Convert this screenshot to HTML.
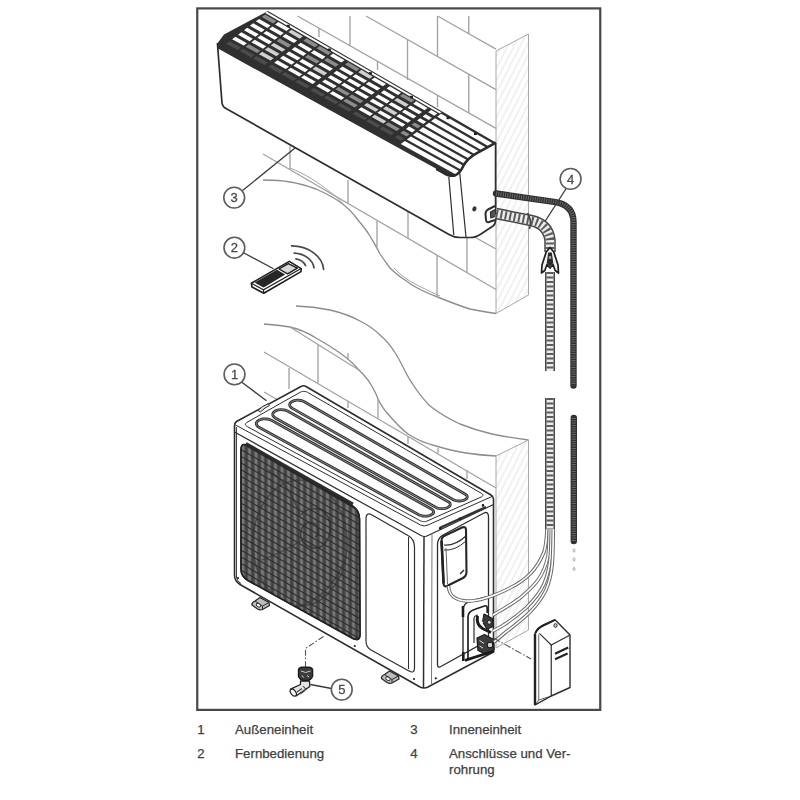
<!DOCTYPE html>
<html><head><meta charset="utf-8">
<style>
html,body{margin:0;padding:0;background:#fff;}
body{width:800px;height:800px;overflow:hidden;position:relative;font-family:"Liberation Sans",sans-serif;}
svg{position:absolute;left:0;top:0;}
svg text{font-family:"Liberation Sans",sans-serif;}
.t{position:absolute;font-size:13.25px;color:#404040;white-space:nowrap;line-height:14px;-webkit-text-stroke:0.25px #404040;}
</style></head><body>
<svg width="800" height="800" viewBox="0 0 800 800" style="filter:blur(0.4px)">
<defs>
<pattern id="hatch" width="5.6" height="5.6" patternUnits="userSpaceOnUse" patternTransform="rotate(-63)">
<line x1="0" y1="2.8" x2="5.6" y2="2.8" stroke="#e6e6e6" stroke-width="1.1"/>
</pattern>
</defs>
<rect x="197.25" y="8.4" width="403" height="701.5" fill="none" stroke="#484848" stroke-width="2.2"/>
<g id="upperwall">
<line x1="437.50" y1="16.00" x2="496.00" y2="49.11" stroke="#a3a3a3" stroke-width="1.35" />
<line x1="366.00" y1="16.00" x2="496.00" y2="89.58" stroke="#a3a3a3" stroke-width="1.35" />
<line x1="297.50" y1="16.00" x2="496.00" y2="128.35" stroke="#a3a3a3" stroke-width="1.35" />
<line x1="350.00" y1="16.00" x2="350.00" y2="46.00" stroke="#a3a3a3" stroke-width="1.35" />
<line x1="319.00" y1="28.00" x2="319.00" y2="37.00" stroke="#a3a3a3" stroke-width="1.35" />
<line x1="407.50" y1="39.50" x2="407.50" y2="80.00" stroke="#a3a3a3" stroke-width="1.35" />
<line x1="437.50" y1="16.00" x2="437.50" y2="56.00" stroke="#a3a3a3" stroke-width="1.35" />
<line x1="468.75" y1="16.00" x2="468.75" y2="34.00" stroke="#a3a3a3" stroke-width="1.35" />
<line x1="468.75" y1="74.00" x2="468.75" y2="113.00" stroke="#a3a3a3" stroke-width="1.35" />
<line x1="377.50" y1="61.00" x2="377.50" y2="70.00" stroke="#a3a3a3" stroke-width="1.35" />
<line x1="437.50" y1="95.00" x2="437.50" y2="107.00" stroke="#a3a3a3" stroke-width="1.35" />
<line x1="263.00" y1="154.00" x2="496.00" y2="289.50" stroke="#a3a3a3" stroke-width="1.35" />
<line x1="470.00" y1="234.50" x2="496.00" y2="249.00" stroke="#a3a3a3" stroke-width="1.35" />
<line x1="290.00" y1="146.00" x2="290.00" y2="169.00" stroke="#a3a3a3" stroke-width="1.35" />
<line x1="348.00" y1="180.00" x2="348.00" y2="203.00" stroke="#a3a3a3" stroke-width="1.35" />
<line x1="377.00" y1="221.00" x2="377.00" y2="247.00" stroke="#a3a3a3" stroke-width="1.35" />
<line x1="408.00" y1="212.00" x2="408.00" y2="238.00" stroke="#a3a3a3" stroke-width="1.35" />
<line x1="437.00" y1="255.50" x2="437.00" y2="296.00" stroke="#a3a3a3" stroke-width="1.35" />
<line x1="467.00" y1="238.00" x2="467.00" y2="272.50" stroke="#a3a3a3" stroke-width="1.35" />
</g>
<path d="M496,51 L528.5,34 L528.5,295 L496,313.5 Z" stroke="#a8a8a8" stroke-width="1" fill="url(#hatch)" />
<path d="M263,180 C275,180 285,181 290,182 C300,183.5 308,186 316,189 C325,193 333,197 340,202 C347,207 353,213 358,220 C363,226 367,231 370,236 C374,243 377,248 380,254 C384,260 387,264 390,268 C394,272 398,275 402,278 C405,280 408,282 412,285 C422,291 432,295 440,298 C450,302 460,306 470,309 C480,311 488,312.5 496,313.5" stroke="#8c8c8c" stroke-width="1.35" fill="none" />
<path d="M290,168 C305,174 318,182 330,192 C336,196 340,200 343,204" stroke="#a3a3a3" stroke-width="1" fill="none" />
<path d="M394,268 C398,272 402,276 406,278.5 C411,282 416,284.5 420,286.5 C427,290 434,293.5 440,296" stroke="#a3a3a3" stroke-width="1" fill="none" />
<path d="M296,306 C308,306.5 320,308 330,310 C341,312.5 351,316 360,321 C368,325 375,330 380,335 C386,340 390,345 394,351 C398,357 401,363 404,369 C407,375 409,379 412,383 C417,391 423,399 430,406 C439,413 449,419 460,424 C470,428 481,431.5 492,434 C504,436.5 516,438.5 528.5,440" stroke="#8c8c8c" stroke-width="1.35" fill="none" />
<path d="M264,324 C273,324.5 282,325.5 290,327 C299,329 308,333 316,338 C325,343 333,348 340,353 C347,358 353,363 358,369 C363,374 367,378 370,383 C373,388 376,393 378,399 C381,405 384,410 388,414 C394,421 400,428 408,434 C417,440 426,443.5 436,446 C446,449 456,451.5 466,453 C476,454.5 486,455.5 496,456" stroke="#8c8c8c" stroke-width="1.35" fill="none" />
<line x1="290.00" y1="327.00" x2="358.00" y2="369.50" stroke="#a3a3a3" stroke-width="1.35" />
<line x1="264.00" y1="352.00" x2="496.00" y2="488.00" stroke="#a3a3a3" stroke-width="1.35" />
<line x1="264.00" y1="392.00" x2="277.00" y2="399.50" stroke="#a3a3a3" stroke-width="1.35" />
<line x1="318.00" y1="345.00" x2="318.00" y2="383.00" stroke="#a3a3a3" stroke-width="1.35" />
<line x1="289.00" y1="368.00" x2="289.00" y2="389.00" stroke="#a3a3a3" stroke-width="1.35" />
<line x1="348.00" y1="353.00" x2="348.00" y2="360.00" stroke="#a3a3a3" stroke-width="1.35" />
<line x1="348.00" y1="401.00" x2="348.00" y2="408.00" stroke="#a3a3a3" stroke-width="1.35" />
<line x1="378.00" y1="399.00" x2="378.00" y2="418.00" stroke="#a3a3a3" stroke-width="1.35" />
<line x1="408.00" y1="437.00" x2="408.00" y2="444.00" stroke="#a3a3a3" stroke-width="1.35" />
<line x1="438.00" y1="448.00" x2="438.00" y2="453.00" stroke="#a3a3a3" stroke-width="1.35" />
<line x1="467.00" y1="470.00" x2="467.00" y2="479.00" stroke="#a3a3a3" stroke-width="1.35" />
<path d="M496,456 L528.5,440 L528.5,630 L496,648 Z" stroke="#a8a8a8" stroke-width="1" fill="url(#hatch)" />
<g id="indoor">
<path d="M217.5,45 L222,103 Q222.5,107 226,108.5 L449,234.5 Q454,237.5 460,237.5 L470,237.5 Q476,237.5 481,234 L493,226 Q495.6,224 495.6,220 L495.6,143 L268,11 L225,33 Z" stroke="none" stroke-width="1" fill="#fff" />
<path d="M217.4,43 L222,103 Q222.5,107 226,108.5 L449,234.5 Q454,237.5 460,237.5 L470,237.5 Q476,237.5 481,234 L493,226 Q495.6,224 495.6,220 L495.6,143" stroke="#2e2e2e" stroke-width="1.7" fill="none" />
<path d="M448.8,177 L453.8,235" stroke="#2e2e2e" stroke-width="1.2" fill="none" />
<path d="M459.6,171.5 L466,237" stroke="#2e2e2e" stroke-width="1.2" fill="none" />
<ellipse cx="474.4" cy="208.8" rx="2" ry="2.6" fill="#333" transform="rotate(25 474.4 208.8)"/>
<path d="M495,206 L488,209.5 Q485.5,211 485.5,214 L486,220 Q486.3,222.8 489,222 L495,220" stroke="#2e2e2e" stroke-width="2" fill="#fff" />
<path d="M495,209.5 L490.5,212 L490.8,218 L495,216.5" stroke="#2e2e2e" stroke-width="1.2" fill="#555" />
<path d="M218.0,48.6 L442.2,172.1 Q449.6,176.9 455,175.4 C459,173.6 461.5,170 463.3,166 C466,160.5 470,157 476,153.6 L495.9,142.6 L268.0,11.0 L224,34.5 L217.3,43.5 Z" stroke="none" stroke-width="1" fill="#303030" />
<clipPath id="gclip"><path d="M218.0,48.6 L442.2,172.1 Q449.6,176.9 455,175.4 C459,173.6 461.5,170 463.3,166 C466,160.5 470,157 476,153.6 L495.9,142.6 L268.0,11.0 L224,34.5 L217.3,43.5 Z"/></clipPath>
<polygon points="226.23,43.63 237.81,50.05 241.05,47.61 229.49,41.17" stroke="none" stroke-width="1" fill="#4c4c4c" />
<polygon points="239.66,51.08 251.24,57.51 254.47,55.08 242.90,48.64" stroke="none" stroke-width="1" fill="#4c4c4c" />
<polygon points="253.10,58.53 264.68,64.96 267.89,62.55 256.32,56.11" stroke="none" stroke-width="1" fill="#4c4c4c" />
<polygon points="268.39,67.02 279.97,73.44 283.16,71.05 271.59,64.61" stroke="none" stroke-width="1" fill="#4c4c4c" />
<polygon points="281.82,74.47 293.41,80.90 296.58,78.51 285.01,72.08" stroke="none" stroke-width="1" fill="#4c4c4c" />
<polygon points="295.26,81.93 306.84,88.35 310.00,85.98 298.43,79.54" stroke="none" stroke-width="1" fill="#4c4c4c" />
<polygon points="310.55,90.41 322.13,96.83 325.27,94.48 313.70,88.04" stroke="none" stroke-width="1" fill="#4c4c4c" />
<polygon points="323.99,97.86 335.57,104.29 338.69,101.95 327.12,95.51" stroke="none" stroke-width="1" fill="#4c4c4c" />
<polygon points="337.42,105.32 349.00,111.74 352.11,109.42 340.54,102.98" stroke="none" stroke-width="1" fill="#4c4c4c" />
<polygon points="352.71,113.80 364.29,120.23 367.38,117.92 355.81,111.48" stroke="none" stroke-width="1" fill="#4c4c4c" />
<polygon points="366.15,121.25 377.73,127.68 380.80,125.38 369.23,118.95" stroke="none" stroke-width="1" fill="#4c4c4c" />
<polygon points="379.58,128.71 391.17,135.14 394.22,132.85 382.65,126.41" stroke="none" stroke-width="1" fill="#4c4c4c" />
<polygon points="394.87,137.19 401.13,140.66 404.17,138.39 397.92,134.91" stroke="none" stroke-width="1" fill="#4c4c4c" />
<polygon points="232.15,39.17 243.71,45.62 246.95,43.18 235.41,36.72" stroke="none" stroke-width="1" fill="#fff" />
<polygon points="245.56,46.65 257.12,53.10 260.34,50.67 248.80,44.21" stroke="none" stroke-width="1" fill="#8c8c8c" />
<polygon points="258.96,54.13 270.52,60.57 273.73,58.16 262.19,51.70" stroke="none" stroke-width="1" fill="#d0d0d0" />
<polygon points="274.22,62.64 285.78,69.09 288.97,66.69 277.43,60.23" stroke="none" stroke-width="1" fill="#fff" />
<polygon points="287.63,70.12 299.18,76.56 302.36,74.18 290.82,67.72" stroke="none" stroke-width="1" fill="#fff" />
<polygon points="301.03,77.60 312.59,84.04 315.75,81.67 304.20,75.22" stroke="none" stroke-width="1" fill="#fff" />
<polygon points="316.29,86.11 327.84,92.55 330.98,90.20 319.44,83.74" stroke="none" stroke-width="1" fill="#fff" />
<polygon points="329.69,93.59 341.25,100.03 344.37,97.69 332.83,91.23" stroke="none" stroke-width="1" fill="#fff" />
<polygon points="343.10,101.07 354.65,107.51 357.76,105.19 346.22,98.73" stroke="none" stroke-width="1" fill="#8c8c8c" />
<polygon points="358.35,109.58 369.91,116.02 373.00,113.71 361.46,107.25" stroke="none" stroke-width="1" fill="#fff" />
<polygon points="371.76,117.06 383.32,123.50 386.39,121.21 374.84,114.75" stroke="none" stroke-width="1" fill="#d0d0d0" />
<polygon points="385.16,124.53 396.72,130.98 399.78,128.70 388.23,122.24" stroke="none" stroke-width="1" fill="#8c8c8c" />
<polygon points="400.42,133.05 406.66,136.53 409.70,134.25 403.47,130.77" stroke="none" stroke-width="1" fill="#8c8c8c" />
<polygon points="238.08,34.71 249.61,41.18 252.85,38.74 241.34,32.26" stroke="none" stroke-width="1" fill="#fff" />
<polygon points="251.45,42.22 262.99,48.68 266.21,46.26 254.70,39.78" stroke="none" stroke-width="1" fill="#fff" />
<polygon points="264.83,49.72 276.36,56.19 279.57,53.78 268.06,47.30" stroke="none" stroke-width="1" fill="#d0d0d0" />
<polygon points="280.05,58.26 291.58,64.73 294.77,62.33 283.26,55.85" stroke="none" stroke-width="1" fill="#fff" />
<polygon points="293.43,65.76 304.96,72.23 308.13,69.85 296.62,63.37" stroke="none" stroke-width="1" fill="#fff" />
<polygon points="306.80,73.27 318.33,79.74 321.49,77.37 309.98,70.89" stroke="none" stroke-width="1" fill="#fff" />
<polygon points="322.02,81.81 333.55,88.27 336.69,85.92 325.18,79.44" stroke="none" stroke-width="1" fill="#fff" />
<polygon points="335.40,89.31 346.93,95.78 350.05,93.44 338.54,86.96" stroke="none" stroke-width="1" fill="#8c8c8c" />
<polygon points="348.77,96.81 360.30,103.28 363.41,100.96 351.90,94.48" stroke="none" stroke-width="1" fill="#8c8c8c" />
<polygon points="363.99,105.35 375.52,111.82 378.61,109.51 367.10,103.03" stroke="none" stroke-width="1" fill="#d0d0d0" />
<polygon points="377.37,112.86 388.90,119.33 391.97,117.03 380.46,110.55" stroke="none" stroke-width="1" fill="#fff" />
<polygon points="390.75,120.36 402.28,126.83 405.33,124.55 393.82,118.07" stroke="none" stroke-width="1" fill="#fff" />
<polygon points="405.97,128.90 412.19,132.39 415.24,130.12 409.02,126.62" stroke="none" stroke-width="1" fill="#fff" />
<polygon points="244.01,30.26 255.51,36.75 258.76,34.31 247.26,27.80" stroke="none" stroke-width="1" fill="#fff" />
<polygon points="257.35,37.78 268.86,44.27 272.08,41.85 260.59,35.35" stroke="none" stroke-width="1" fill="#fff" />
<polygon points="270.70,45.31 282.20,51.80 285.41,49.39 273.92,42.89" stroke="none" stroke-width="1" fill="#d0d0d0" />
<polygon points="285.88,53.88 297.39,60.37 300.58,57.97 289.09,51.47" stroke="none" stroke-width="1" fill="#fff" />
<polygon points="299.23,61.41 310.73,67.90 313.91,65.52 302.42,59.01" stroke="none" stroke-width="1" fill="#fff" />
<polygon points="312.57,68.94 324.08,75.43 327.24,73.06 315.75,66.56" stroke="none" stroke-width="1" fill="#d0d0d0" />
<polygon points="327.76,77.50 339.26,84.00 342.40,81.64 330.91,75.14" stroke="none" stroke-width="1" fill="#fff" />
<polygon points="341.10,85.03 352.61,91.52 355.73,89.18 344.24,82.68" stroke="none" stroke-width="1" fill="#fff" />
<polygon points="354.45,92.56 365.95,99.05 369.06,96.73 357.57,90.22" stroke="none" stroke-width="1" fill="#fff" />
<polygon points="369.64,101.13 381.14,107.62 384.23,105.31 372.74,98.81" stroke="none" stroke-width="1" fill="#fff" />
<polygon points="382.98,108.66 394.49,115.15 397.56,112.85 386.07,106.35" stroke="none" stroke-width="1" fill="#d0d0d0" />
<polygon points="396.33,116.19 407.83,122.68 410.89,120.39 399.40,113.89" stroke="none" stroke-width="1" fill="#fff" />
<polygon points="411.51,124.75 417.73,128.26 420.77,125.99 414.56,122.47" stroke="none" stroke-width="1" fill="#8c8c8c" />
<polygon points="249.93,25.80 261.41,32.31 264.66,29.87 253.19,23.35" stroke="none" stroke-width="1" fill="#fff" />
<polygon points="263.25,33.35 274.73,39.86 277.95,37.44 266.49,30.91" stroke="none" stroke-width="1" fill="#fff" />
<polygon points="276.56,40.91 288.04,47.42 291.25,45.01 279.79,38.48" stroke="none" stroke-width="1" fill="#8c8c8c" />
<polygon points="291.71,49.50 303.19,56.01 306.39,53.62 294.92,47.09" stroke="none" stroke-width="1" fill="#fff" />
<polygon points="305.03,57.05 316.51,63.57 319.68,61.18 308.22,54.66" stroke="none" stroke-width="1" fill="#8c8c8c" />
<polygon points="318.34,64.61 329.82,71.12 332.98,68.75 321.52,62.23" stroke="none" stroke-width="1" fill="#fff" />
<polygon points="333.50,73.20 344.97,79.72 348.11,77.36 336.65,70.84" stroke="none" stroke-width="1" fill="#fff" />
<polygon points="346.81,80.76 358.29,87.27 361.41,84.93 349.95,78.40" stroke="none" stroke-width="1" fill="#fff" />
<polygon points="360.13,88.31 371.60,94.82 374.71,92.50 363.25,85.97" stroke="none" stroke-width="1" fill="#fff" />
<polygon points="375.28,96.91 386.76,103.42 389.84,101.11 378.38,94.58" stroke="none" stroke-width="1" fill="#fff" />
<polygon points="388.59,104.46 400.07,110.97 403.14,108.67 391.68,102.15" stroke="none" stroke-width="1" fill="#fff" />
<polygon points="401.91,112.01 413.39,118.52 416.44,116.24 404.98,109.72" stroke="none" stroke-width="1" fill="#fff" />
<polygon points="417.06,120.61 423.26,124.12 426.30,121.85 420.11,118.33" stroke="none" stroke-width="1" fill="#fff" />
<polygon points="255.86,21.34 267.31,27.88 270.56,25.44 259.12,18.89" stroke="none" stroke-width="1" fill="#fff" />
<polygon points="269.14,28.92 280.60,35.45 283.82,33.03 272.39,26.48" stroke="none" stroke-width="1" fill="#fff" />
<polygon points="282.43,36.50 293.88,43.03 297.09,40.62 285.65,34.07" stroke="none" stroke-width="1" fill="#fff" />
<polygon points="297.55,45.12 309.00,51.66 312.19,49.26 300.75,42.71" stroke="none" stroke-width="1" fill="#fff" />
<polygon points="310.83,52.70 322.28,59.23 325.46,56.85 314.02,50.31" stroke="none" stroke-width="1" fill="#fff" />
<polygon points="324.11,60.28 335.57,66.81 338.73,64.44 327.29,57.90" stroke="none" stroke-width="1" fill="#8c8c8c" />
<polygon points="339.23,68.90 350.68,75.44 353.83,73.08 342.39,66.54" stroke="none" stroke-width="1" fill="#fff" />
<polygon points="352.52,76.48 363.97,83.01 367.09,80.67 355.66,74.13" stroke="none" stroke-width="1" fill="#fff" />
<polygon points="365.80,84.06 377.25,90.59 380.36,88.27 368.92,81.72" stroke="none" stroke-width="1" fill="#fff" />
<polygon points="380.92,92.68 392.37,99.22 395.46,96.90 384.02,90.36" stroke="none" stroke-width="1" fill="#fff" />
<polygon points="394.20,100.26 405.66,106.79 408.73,104.50 397.29,97.95" stroke="none" stroke-width="1" fill="#d0d0d0" />
<polygon points="407.49,107.84 418.94,114.37 422.00,112.09 410.56,105.54" stroke="none" stroke-width="1" fill="#fff" />
<polygon points="422.61,116.46 428.79,119.99 431.83,117.72 425.66,114.18" stroke="none" stroke-width="1" fill="#fff" />
<polygon points="261.78,16.89 273.21,23.44 276.46,21.00 265.04,14.43" stroke="none" stroke-width="1" fill="#8c8c8c" />
<polygon points="275.04,24.49 286.47,31.04 289.69,28.62 278.28,22.05" stroke="none" stroke-width="1" fill="#fff" />
<polygon points="288.29,32.09 299.72,38.65 302.93,36.23 291.52,29.67" stroke="none" stroke-width="1" fill="#d0d0d0" />
<polygon points="303.38,40.74 314.80,47.30 318.00,44.90 306.58,38.33" stroke="none" stroke-width="1" fill="#8c8c8c" />
<polygon points="316.63,48.35 328.06,54.90 331.23,52.52 319.82,45.95" stroke="none" stroke-width="1" fill="#8c8c8c" />
<polygon points="329.89,55.95 341.31,62.50 344.47,60.13 333.06,53.57" stroke="none" stroke-width="1" fill="#fff" />
<polygon points="344.97,64.60 356.40,71.16 359.54,68.80 348.12,62.24" stroke="none" stroke-width="1" fill="#8c8c8c" />
<polygon points="358.22,72.20 369.65,78.76 372.77,76.42 361.36,69.85" stroke="none" stroke-width="1" fill="#d0d0d0" />
<polygon points="371.48,79.81 382.90,86.36 386.01,84.03 374.60,77.47" stroke="none" stroke-width="1" fill="#fff" />
<polygon points="386.56,88.46 397.99,95.01 401.08,92.70 389.66,86.14" stroke="none" stroke-width="1" fill="#fff" />
<polygon points="399.82,96.06 411.24,102.62 414.31,100.32 402.90,93.75" stroke="none" stroke-width="1" fill="#8c8c8c" />
<polygon points="413.07,103.66 424.50,110.22 427.55,107.94 416.14,101.37" stroke="none" stroke-width="1" fill="#fff" />
<polygon points="428.15,112.32 434.32,115.86 437.37,113.58 431.20,110.04" stroke="none" stroke-width="1" fill="#fff" />
<polygon points="400.74,143.97 472.86,183.88 476.80,180.94 404.80,140.94" stroke="none" stroke-width="1" fill="#fff" clip-path="url(#gclip)"/>
<polygon points="406.80,139.44 478.74,179.49 482.68,176.56 410.86,136.41" stroke="none" stroke-width="1" fill="#fff" clip-path="url(#gclip)"/>
<polygon points="412.86,134.91 484.63,175.11 488.57,172.18 416.92,131.88" stroke="none" stroke-width="1" fill="#fff" clip-path="url(#gclip)"/>
<polygon points="418.92,130.39 490.51,170.73 494.45,167.79 422.98,127.35" stroke="none" stroke-width="1" fill="#fff" clip-path="url(#gclip)"/>
<polygon points="424.98,125.86 496.39,166.35 500.33,163.41 429.04,122.82" stroke="none" stroke-width="1" fill="#fff" clip-path="url(#gclip)"/>
<polygon points="431.04,121.33 502.27,161.96 506.21,159.03 435.10,118.30" stroke="none" stroke-width="1" fill="#fff" clip-path="url(#gclip)"/>
<polygon points="437.10,116.80 508.15,157.58 512.10,154.65 441.16,113.77" stroke="none" stroke-width="1" fill="#fff" clip-path="url(#gclip)"/>
<polygon points="265.25,13.07 439.78,113.59 441.41,112.37 267.00,11.75" stroke="none" stroke-width="1" fill="#fff" />
<rect x="286.8" y="24.8" width="3" height="2.4" fill="#222"/>
<rect x="327.9" y="48.5" width="3" height="2.4" fill="#222"/>
<rect x="368.9" y="72.1" width="3" height="2.4" fill="#222"/>
<rect x="410.0" y="95.8" width="3" height="2.4" fill="#222"/>
<rect x="446.5" y="116.8" width="3" height="2.4" fill="#222"/>
<rect x="473.9" y="132.6" width="3" height="2.4" fill="#222"/>
<path d="M436.2,168.8 L442.2,172.1 Q449.6,176.9 455,175.4 C459,173.6 461.5,170 463.3,166 C466,160.5 470,157 476,153.6 L495.9,142.6" stroke="#2c2c2c" stroke-width="2.6" fill="none" />
</g>
<path d="M496,193.5 L554,201.8 Q573.5,204.5 573.5,222 L573.5,385.5" stroke="#303030" stroke-width="6.4" fill="none" stroke-linecap="round"/>
<path d="M496,193.5 L554,201.8 Q573.5,204.5 573.5,222 L573.5,385.5" stroke="#686868" stroke-width="4.2" fill="none" stroke-dasharray="1 1.3"/>
<path d="M573.8,418 L573.8,541" stroke="#303030" stroke-width="6.4" fill="none" stroke-linecap="round"/>
<path d="M573.8,418 L573.8,541" stroke="#686868" stroke-width="4.2" fill="none" stroke-dasharray="1 1.3"/>
<path d="M496,213.5 L531,220.5 Q548,224 550,240 L550,252" stroke="#484848" stroke-width="11.5" fill="none" />
<path d="M496,213.5 L531,220.5 Q548,224 550,240 L550,252" stroke="#ececec" stroke-width="8.5" fill="none" />
<path d="M496,213.5 L531,220.5 Q548,224 550,240 L550,252" stroke="#5c5c5c" stroke-width="8.5" fill="none" stroke-dasharray="2 2.5"/>
<path d="M550,272 L550,371" stroke="#484848" stroke-width="10" fill="none" />
<path d="M550,272 L550,371" stroke="#ececec" stroke-width="7" fill="none" />
<path d="M550,272 L550,371" stroke="#5c5c5c" stroke-width="7" fill="none" stroke-dasharray="2 2.5"/>
<path d="M550,398 L550,530" stroke="#484848" stroke-width="10" fill="none" />
<path d="M550,398 L550,530" stroke="#ececec" stroke-width="7" fill="none" />
<path d="M550,398 L550,530" stroke="#5c5c5c" stroke-width="7" fill="none" stroke-dasharray="2 2.5"/>
<path d="M550,247.5 L546.2,252 L542,265 L541.5,273 L544.8,270.5 L547,264.5 L550,268 L553,264.5 L555.2,270.5 L558.5,273 L558,265 L553.8,252 Z" stroke="#1e1e1e" stroke-width="1.7" fill="#f2f2f2" stroke-linejoin="round"/>
<path d="M548.2,252.5 L551.8,252.5 L553.3,263 L550,266.5 L546.7,263 Z" stroke="none" stroke-width="1" fill="#2a2a2a" />
<path d="M548.8,256 L551.2,256 L551.2,259 L548.8,259 Z" stroke="none" stroke-width="1" fill="#999" />
<path d="M527.5,213 Q532,220 529.5,229" stroke="#444" stroke-width="1.6" fill="none" />
<ellipse cx="574" cy="550.5" rx="1" ry="1.6" fill="none" stroke="#999" stroke-width="0.8"/>
<ellipse cx="574" cy="559.5" rx="1" ry="1.6" fill="none" stroke="#999" stroke-width="0.8"/>
<ellipse cx="574" cy="569" rx="1" ry="1.6" fill="none" stroke="#999" stroke-width="0.8"/>
<g id="outdoor">
<path d="M234.5,424 L303.5,385 L493.5,496 L493.5,650 L424,688 L240,584.5 Q234.5,581 234.5,575 Z" stroke="none" stroke-width="1" fill="#fff" />
<path d="M236.5,421.5 Q234.5,423 234.5,426 L234.5,575 Q234.5,581 240,584.5 L420,687 Q424,689 428,687 L493.5,652 L493.5,499 Q493.5,496.5 491,495 L306,386.5 Q303.5,385 301,386.5 Z" stroke="#2e2e2e" stroke-width="1.6" fill="none" />
<path d="M234.5,432 L421,535.5 Q424.5,537.5 428,535.5 L493.5,504.5" stroke="#2e2e2e" stroke-width="1.2" fill="none" />
<path d="M235.5,425 L420.5,525 Q424,527 428,525 L492,496.5" stroke="#2e2e2e" stroke-width="1" fill="none" />
<path d="M236.4,427 L236.4,576 Q236.6,581 241,583.5" stroke="#2e2e2e" stroke-width="1" fill="none" />
<line x1="424.00" y1="537.00" x2="423.50" y2="688.00" stroke="#2e2e2e" stroke-width="1.5" />
<line x1="432.00" y1="534.50" x2="431.50" y2="685.00" stroke="#666" stroke-width="0.9" />
<path d="M300.3,392.2 L300.9,391.9 L301.6,391.7 L302.4,391.5 L303.2,391.4 L304.0,391.4 L304.9,391.5 L305.8,391.7 L306.6,391.9 L307.4,392.2 L308.0,392.6 L481.5,493.4 L482.0,493.7 L482.4,494.0 L482.7,494.4 L482.8,494.8 L482.9,495.2 L482.8,495.6 L482.6,496.0 L482.3,496.3 L481.9,496.7 L481.4,496.9 L427.0,521.1 L426.4,521.3 L425.8,521.5 L425.1,521.6 L424.4,521.6 L423.6,521.6 L422.9,521.5 L422.2,521.4 L421.5,521.2 L420.8,521.0 L420.2,520.7 L247.4,426.7 L246.8,426.3 L246.3,425.9 L245.9,425.5 L245.6,425.0 L245.4,424.6 L245.4,424.1 L245.5,423.7 L245.7,423.3 L246.0,422.9 L246.5,422.6 Z" stroke="#2e2e2e" stroke-width="1" fill="none" />
<path d="M292.4,401.4 L293.4,400.9 L294.4,400.6 L295.6,400.3 L296.9,400.2 L298.2,400.2 L299.5,400.3 L300.8,400.5 L302.1,400.8 L303.2,401.3 L304.3,401.8 L465.3,494.3 L466.0,494.8 L466.6,495.3 L467.0,495.9 L467.2,496.5 L467.3,497.1 L467.1,497.8 L466.8,498.3 L466.2,498.9 L465.6,499.4 L464.7,499.8 L464.2,500.1 L463.2,500.4 L462.2,500.7 L461.0,500.9 L459.9,501.0 L458.7,501.0 L457.5,500.9 L456.3,500.7 L455.3,500.5 L454.3,500.1 L453.4,499.7 L292.4,408.4 L291.5,407.8 L290.8,407.1 L290.2,406.4 L289.9,405.7 L289.7,405.0 L289.7,404.2 L290.0,403.5 L290.4,402.8 L291.0,402.2 L291.8,401.7 Z" stroke="#2e2e2e" stroke-width="2.8" fill="none" />
<path d="M292.4,401.4 L293.4,400.9 L294.4,400.6 L295.6,400.3 L296.9,400.2 L298.2,400.2 L299.5,400.3 L300.8,400.5 L302.1,400.8 L303.2,401.3 L304.3,401.8 L465.3,494.3 L466.0,494.8 L466.6,495.3 L467.0,495.9 L467.2,496.5 L467.3,497.1 L467.1,497.8 L466.8,498.3 L466.2,498.9 L465.6,499.4 L464.7,499.8 L464.2,500.1 L463.2,500.4 L462.2,500.7 L461.0,500.9 L459.9,501.0 L458.7,501.0 L457.5,500.9 L456.3,500.7 L455.3,500.5 L454.3,500.1 L453.4,499.7 L292.4,408.4 L291.5,407.8 L290.8,407.1 L290.2,406.4 L289.9,405.7 L289.7,405.0 L289.7,404.2 L290.0,403.5 L290.4,402.8 L291.0,402.2 L291.8,401.7 Z" stroke="#c8c8c8" stroke-width="0.6" fill="none" />
<path d="M275.5,410.9 L276.5,410.4 L277.6,410.1 L278.9,409.8 L280.2,409.7 L281.6,409.6 L283.0,409.8 L284.4,410.0 L285.7,410.3 L286.9,410.8 L288.0,411.3 L448.2,501.7 L448.9,502.2 L449.6,502.8 L450.0,503.4 L450.2,504.0 L450.3,504.7 L450.1,505.3 L449.8,505.9 L449.2,506.5 L448.5,507.0 L447.7,507.4 L447.1,507.7 L446.1,508.1 L445.0,508.4 L443.8,508.6 L442.6,508.7 L441.3,508.7 L440.1,508.6 L438.9,508.4 L437.7,508.1 L436.7,507.7 L435.7,507.3 L275.7,418.2 L274.8,417.6 L274.0,416.9 L273.4,416.2 L272.9,415.4 L272.8,414.6 L272.8,413.9 L273.0,413.1 L273.5,412.4 L274.1,411.8 L275.0,411.2 Z" stroke="#2e2e2e" stroke-width="2.8" fill="none" />
<path d="M275.5,410.9 L276.5,410.4 L277.6,410.1 L278.9,409.8 L280.2,409.7 L281.6,409.6 L283.0,409.8 L284.4,410.0 L285.7,410.3 L286.9,410.8 L288.0,411.3 L448.2,501.7 L448.9,502.2 L449.6,502.8 L450.0,503.4 L450.2,504.0 L450.3,504.7 L450.1,505.3 L449.8,505.9 L449.2,506.5 L448.5,507.0 L447.7,507.4 L447.1,507.7 L446.1,508.1 L445.0,508.4 L443.8,508.6 L442.6,508.7 L441.3,508.7 L440.1,508.6 L438.9,508.4 L437.7,508.1 L436.7,507.7 L435.7,507.3 L275.7,418.2 L274.8,417.6 L274.0,416.9 L273.4,416.2 L272.9,415.4 L272.8,414.6 L272.8,413.9 L273.0,413.1 L273.5,412.4 L274.1,411.8 L275.0,411.2 Z" stroke="#c8c8c8" stroke-width="0.6" fill="none" />
<path d="M259.1,420.1 L260.1,419.7 L261.2,419.3 L262.5,419.0 L263.9,418.9 L265.3,418.9 L266.7,419.0 L268.1,419.2 L269.5,419.6 L270.7,420.0 L271.9,420.6 L431.4,509.0 L432.2,509.6 L432.9,510.1 L433.3,510.8 L433.6,511.4 L433.7,512.0 L433.5,512.7 L433.2,513.3 L432.6,513.9 L431.9,514.4 L431.1,514.9 L430.5,515.1 L429.5,515.5 L428.4,515.8 L427.2,516.0 L425.9,516.1 L424.6,516.1 L423.3,516.0 L422.1,515.8 L420.9,515.5 L419.8,515.2 L418.8,514.7 L259.4,427.5 L258.4,426.9 L257.6,426.2 L257.0,425.5 L256.6,424.7 L256.3,423.9 L256.3,423.1 L256.6,422.4 L257.0,421.7 L257.7,421.0 L258.5,420.4 Z" stroke="#2e2e2e" stroke-width="2.8" fill="none" />
<path d="M259.1,420.1 L260.1,419.7 L261.2,419.3 L262.5,419.0 L263.9,418.9 L265.3,418.9 L266.7,419.0 L268.1,419.2 L269.5,419.6 L270.7,420.0 L271.9,420.6 L431.4,509.0 L432.2,509.6 L432.9,510.1 L433.3,510.8 L433.6,511.4 L433.7,512.0 L433.5,512.7 L433.2,513.3 L432.6,513.9 L431.9,514.4 L431.1,514.9 L430.5,515.1 L429.5,515.5 L428.4,515.8 L427.2,516.0 L425.9,516.1 L424.6,516.1 L423.3,516.0 L422.1,515.8 L420.9,515.5 L419.8,515.2 L418.8,514.7 L259.4,427.5 L258.4,426.9 L257.6,426.2 L257.0,425.5 L256.6,424.7 L256.3,423.9 L256.3,423.1 L256.6,422.4 L257.0,421.7 L257.7,421.0 L258.5,420.4 Z" stroke="#c8c8c8" stroke-width="0.6" fill="none" />
<path d="M258,410.5 L262.5,406.5 L268,403.8 L269.5,405.5 L265,408 L260.5,412 Z" stroke="#333" stroke-width="1" fill="#ddd" />
<clipPath id="fanclip"><path d="M241,450 Q241,442 248,445.5 L352,505.5 Q359.5,510.5 359.5,519 L360,634 Q360,642 353,638.5 L248,580.5 Q241,576.5 241,569 Z"/></clipPath>
<path d="M241,450 Q241,442 248,445.5 L352,505.5 Q359.5,510.5 359.5,519 L360,634 Q360,642 353,638.5 L248,580.5 Q241,576.5 241,569 Z" stroke="#222" stroke-width="1.5" fill="#4e4e4e" />
<g clip-path="url(#fanclip)">
<line x1="243.00" y1="430.00" x2="243.00" y2="650.00" stroke="#787878" stroke-width="2.6" />
<line x1="246.30" y1="430.00" x2="246.30" y2="650.00" stroke="#3c3c3c" stroke-width="0.9" />
<line x1="249.50" y1="430.00" x2="249.50" y2="650.00" stroke="#787878" stroke-width="2.6" />
<line x1="252.80" y1="430.00" x2="252.80" y2="650.00" stroke="#3c3c3c" stroke-width="0.9" />
<line x1="256.00" y1="430.00" x2="256.00" y2="650.00" stroke="#787878" stroke-width="2.6" />
<line x1="259.30" y1="430.00" x2="259.30" y2="650.00" stroke="#3c3c3c" stroke-width="0.9" />
<line x1="262.50" y1="430.00" x2="262.50" y2="650.00" stroke="#787878" stroke-width="2.6" />
<line x1="265.80" y1="430.00" x2="265.80" y2="650.00" stroke="#3c3c3c" stroke-width="0.9" />
<line x1="269.00" y1="430.00" x2="269.00" y2="650.00" stroke="#787878" stroke-width="2.6" />
<line x1="272.30" y1="430.00" x2="272.30" y2="650.00" stroke="#3c3c3c" stroke-width="0.9" />
<line x1="275.50" y1="430.00" x2="275.50" y2="650.00" stroke="#787878" stroke-width="2.6" />
<line x1="278.80" y1="430.00" x2="278.80" y2="650.00" stroke="#3c3c3c" stroke-width="0.9" />
<line x1="282.00" y1="430.00" x2="282.00" y2="650.00" stroke="#787878" stroke-width="2.6" />
<line x1="285.30" y1="430.00" x2="285.30" y2="650.00" stroke="#3c3c3c" stroke-width="0.9" />
<line x1="288.50" y1="430.00" x2="288.50" y2="650.00" stroke="#787878" stroke-width="2.6" />
<line x1="291.80" y1="430.00" x2="291.80" y2="650.00" stroke="#3c3c3c" stroke-width="0.9" />
<line x1="295.00" y1="430.00" x2="295.00" y2="650.00" stroke="#787878" stroke-width="2.6" />
<line x1="298.30" y1="430.00" x2="298.30" y2="650.00" stroke="#3c3c3c" stroke-width="0.9" />
<line x1="301.50" y1="430.00" x2="301.50" y2="650.00" stroke="#787878" stroke-width="2.6" />
<line x1="304.80" y1="430.00" x2="304.80" y2="650.00" stroke="#3c3c3c" stroke-width="0.9" />
<line x1="308.00" y1="430.00" x2="308.00" y2="650.00" stroke="#787878" stroke-width="2.6" />
<line x1="311.30" y1="430.00" x2="311.30" y2="650.00" stroke="#3c3c3c" stroke-width="0.9" />
<line x1="314.50" y1="430.00" x2="314.50" y2="650.00" stroke="#787878" stroke-width="2.6" />
<line x1="317.80" y1="430.00" x2="317.80" y2="650.00" stroke="#3c3c3c" stroke-width="0.9" />
<line x1="321.00" y1="430.00" x2="321.00" y2="650.00" stroke="#787878" stroke-width="2.6" />
<line x1="324.30" y1="430.00" x2="324.30" y2="650.00" stroke="#3c3c3c" stroke-width="0.9" />
<line x1="327.50" y1="430.00" x2="327.50" y2="650.00" stroke="#787878" stroke-width="2.6" />
<line x1="330.80" y1="430.00" x2="330.80" y2="650.00" stroke="#3c3c3c" stroke-width="0.9" />
<line x1="334.00" y1="430.00" x2="334.00" y2="650.00" stroke="#787878" stroke-width="2.6" />
<line x1="337.30" y1="430.00" x2="337.30" y2="650.00" stroke="#3c3c3c" stroke-width="0.9" />
<line x1="340.50" y1="430.00" x2="340.50" y2="650.00" stroke="#787878" stroke-width="2.6" />
<line x1="343.80" y1="430.00" x2="343.80" y2="650.00" stroke="#3c3c3c" stroke-width="0.9" />
<line x1="347.00" y1="430.00" x2="347.00" y2="650.00" stroke="#787878" stroke-width="2.6" />
<line x1="350.30" y1="430.00" x2="350.30" y2="650.00" stroke="#3c3c3c" stroke-width="0.9" />
<line x1="353.50" y1="430.00" x2="353.50" y2="650.00" stroke="#787878" stroke-width="2.6" />
<line x1="356.80" y1="430.00" x2="356.80" y2="650.00" stroke="#3c3c3c" stroke-width="0.9" />
<line x1="360.00" y1="430.00" x2="360.00" y2="650.00" stroke="#787878" stroke-width="2.6" />
<line x1="363.30" y1="430.00" x2="363.30" y2="650.00" stroke="#3c3c3c" stroke-width="0.9" />
<ellipse cx="300" cy="543" rx="47" ry="63" fill="none" stroke="#3a3a3a" stroke-width="1.6" opacity="0.7"/>
<path d="M301,515 C306,508 320,506 326,514 C333,523 331,540 322,546 C314,551 303,546 301,537 C299,528 306,521 313,523 C319,525 320,534 315,537" stroke="#2c2c2c" stroke-width="1.5" fill="none" opacity="0.7"/>
<path d="M268,470 C285,480 295,500 300,516 M345,560 C335,585 318,600 300,606 M262,560 C275,555 290,548 302,540" stroke="#3a3a3a" stroke-width="1.5" fill="none" opacity="0.7"/>
<line x1="236.00" y1="440.00" x2="366.00" y2="515.01" stroke="#2d2d2d" stroke-width="1.1" />
<line x1="236.00" y1="446.70" x2="366.00" y2="521.71" stroke="#2d2d2d" stroke-width="1.1" />
<line x1="236.00" y1="453.40" x2="366.00" y2="528.41" stroke="#2d2d2d" stroke-width="1.1" />
<line x1="236.00" y1="460.10" x2="366.00" y2="535.11" stroke="#2d2d2d" stroke-width="1.1" />
<line x1="236.00" y1="466.80" x2="366.00" y2="541.81" stroke="#2d2d2d" stroke-width="1.1" />
<line x1="236.00" y1="473.50" x2="366.00" y2="548.51" stroke="#2d2d2d" stroke-width="1.1" />
<line x1="236.00" y1="480.20" x2="366.00" y2="555.21" stroke="#2d2d2d" stroke-width="1.1" />
<line x1="236.00" y1="486.90" x2="366.00" y2="561.91" stroke="#2d2d2d" stroke-width="1.1" />
<line x1="236.00" y1="493.60" x2="366.00" y2="568.61" stroke="#2d2d2d" stroke-width="1.1" />
<line x1="236.00" y1="500.30" x2="366.00" y2="575.31" stroke="#2d2d2d" stroke-width="1.1" />
<line x1="236.00" y1="507.00" x2="366.00" y2="582.01" stroke="#2d2d2d" stroke-width="1.1" />
<line x1="236.00" y1="513.70" x2="366.00" y2="588.71" stroke="#2d2d2d" stroke-width="1.1" />
<line x1="236.00" y1="520.40" x2="366.00" y2="595.41" stroke="#2d2d2d" stroke-width="1.1" />
<line x1="236.00" y1="527.10" x2="366.00" y2="602.11" stroke="#2d2d2d" stroke-width="1.1" />
<line x1="236.00" y1="533.80" x2="366.00" y2="608.81" stroke="#2d2d2d" stroke-width="1.1" />
<line x1="236.00" y1="540.50" x2="366.00" y2="615.51" stroke="#2d2d2d" stroke-width="1.1" />
<line x1="236.00" y1="547.20" x2="366.00" y2="622.21" stroke="#2d2d2d" stroke-width="1.1" />
<line x1="236.00" y1="553.90" x2="366.00" y2="628.91" stroke="#2d2d2d" stroke-width="1.1" />
<line x1="236.00" y1="560.60" x2="366.00" y2="635.61" stroke="#2d2d2d" stroke-width="1.1" />
<line x1="236.00" y1="567.30" x2="366.00" y2="642.31" stroke="#2d2d2d" stroke-width="1.1" />
<line x1="236.00" y1="574.00" x2="366.00" y2="649.01" stroke="#2d2d2d" stroke-width="1.1" />
<line x1="236.00" y1="580.70" x2="366.00" y2="655.71" stroke="#2d2d2d" stroke-width="1.1" />
<line x1="236.00" y1="587.40" x2="366.00" y2="662.41" stroke="#2d2d2d" stroke-width="1.1" />
<line x1="236.00" y1="594.10" x2="366.00" y2="669.11" stroke="#2d2d2d" stroke-width="1.1" />
<line x1="236.00" y1="600.80" x2="366.00" y2="675.81" stroke="#2d2d2d" stroke-width="1.1" />
<line x1="236.00" y1="607.50" x2="366.00" y2="682.51" stroke="#2d2d2d" stroke-width="1.1" />
<line x1="236.00" y1="614.20" x2="366.00" y2="689.21" stroke="#2d2d2d" stroke-width="1.1" />
<line x1="236.00" y1="620.90" x2="366.00" y2="695.91" stroke="#2d2d2d" stroke-width="1.1" />
<line x1="236.00" y1="627.60" x2="366.00" y2="702.61" stroke="#2d2d2d" stroke-width="1.1" />
<line x1="236.00" y1="634.30" x2="366.00" y2="709.31" stroke="#2d2d2d" stroke-width="1.1" />
<line x1="236.00" y1="641.00" x2="366.00" y2="716.01" stroke="#2d2d2d" stroke-width="1.1" />
<line x1="236.00" y1="647.70" x2="366.00" y2="722.71" stroke="#2d2d2d" stroke-width="1.1" />
<line x1="236.00" y1="654.40" x2="366.00" y2="729.41" stroke="#2d2d2d" stroke-width="1.1" />
</g>
<path d="M241,450 Q241,442 248,445.5 L352,505.5 Q359.5,510.5 359.5,519 L360,634 Q360,642 353,638.5 L248,580.5 Q241,576.5 241,569 Z" stroke="#222" stroke-width="1.6" fill="none" />
<path d="M246,443.5 L353,504" stroke="#2c2c2c" stroke-width="3" fill="none" />
<path d="M366,519 Q366,511.5 372,515 L408,535.5 Q414.5,539 414.5,547 L414.5,668 Q414.5,674 409,671 L371,650 Q366,647 366,641 Z" stroke="#2e2e2e" stroke-width="1.2" fill="none" />
<path d="M408.5,537 L408.5,669" stroke="#2e2e2e" stroke-width="1" fill="none" />
<circle cx="354.8" cy="646" r="1.1" fill="#222"/>
<circle cx="414" cy="679" r="1.1" fill="#222"/>
<circle cx="435.8" cy="678.3" r="1.1" fill="#222"/>
<circle cx="238" cy="578" r="1.1" fill="#222"/>
<path d="M437.5,545 Q437.5,538 443,535 L484,513 Q488.5,511 488.5,517 L488.5,640 L440,667 Q437.5,668 437.5,664 Z" stroke="#2e2e2e" stroke-width="1.3" fill="none" />
<path d="M441,546 Q441,541 445,539" stroke="#555" stroke-width="0.8" fill="none" />
<path d="M441.5,541 Q441.5,537 445,535.5 L462,527.5 Q466,526 466,530 L466.5,572 Q466.5,576 463,578 L447,586 Q443.5,587.5 443.5,583 Z" stroke="#262626" stroke-width="2.1" fill="#fff" />
<path d="M444,545 Q455,546 466,536" stroke="#2e2e2e" stroke-width="1.2" fill="none" />
<path d="M444,550 Q455,551 466,541" stroke="#2e2e2e" stroke-width="1" fill="none" />
<line x1="446.00" y1="548.00" x2="447.50" y2="584.00" stroke="#555" stroke-width="0.9" />
<path d="M460,574 L464,570" stroke="#2e2e2e" stroke-width="1.5" fill="none" />
<path d="M463,661 L463,610 Q463,603.5 470,601.3 L486,596.8" stroke="#2e2e2e" stroke-width="1.4" fill="none" />
<path d="M463,606 L463,617 M463.3,652 L463.3,661" stroke="#1c1c1c" stroke-width="2.6" fill="none" />
<path d="M468,659 L468,617 Q468,611.5 475,609.3 L484.5,606 Q487.2,605.2 487.2,608 L487.2,613" stroke="#222" stroke-width="1.7" fill="none" />
<path d="M474,643 L474,619 Q474,615.6 478,615" stroke="#2e2e2e" stroke-width="1.2" fill="none" />
<path d="M477.5,616 Q476,624.5 482.5,628.5 L491,632.5" stroke="#1c1c1c" stroke-width="3" fill="none" />
<path d="M484,614 L492.5,618.5 L493.5,626.5 L487,629 L482.5,622 Z" stroke="#1c1c1c" stroke-width="1.2" fill="#3a3a3a" stroke-linejoin="round"/>
<circle cx="489.3" cy="622.3" r="2" fill="#cfcfcf" stroke="#1c1c1c" stroke-width="1"/>
<path d="M480,620 L483,623" stroke="#eee" stroke-width="1.1" fill="none" />
<path d="M477,638 L484.5,634.5 L493.5,639.5 L494.2,650 L486,654.5 L478,650.5 Z" stroke="#1c1c1c" stroke-width="1.3" fill="#3c3c3c" stroke-linejoin="round"/>
<circle cx="490" cy="645" r="2.8" fill="#d4d4d4" stroke="#1c1c1c" stroke-width="1.1"/>
<path d="M479.5,640.5 L484,643.5 M479.5,646 L483,648" stroke="#ddd" stroke-width="1" fill="none" />
<path d="M465,660.3 L494,651" stroke="#1a1a1a" stroke-width="2.8" fill="none" />
<path d="M439.5,527.9 L486,506.9" stroke="#333" stroke-width="2.2" fill="none" />
<circle cx="440.2" cy="528.6" r="1.3" fill="#1c1c1c"/>
<circle cx="459.8" cy="518.8" r="1.3" fill="#1c1c1c"/>
<circle cx="483" cy="505.4" r="1.3" fill="#1c1c1c"/>
<path d="M441.6,541 L443.6,583.5" stroke="#222" stroke-width="2.6" fill="none" />
<path d="M252,605 Q251.5,602.5 255,601 L260,597.5 L269,602.5 L269.5,605.5 L262.5,609.5 Q260,610.5 257.5,609 Z" stroke="#2a2a2a" stroke-width="1.3" fill="#bdbdbd" stroke-linejoin="round"/>
<path d="M255,601 L262.5,606 L269,602.5 M262.5,606 L262.5,609.5" stroke="#2a2a2a" stroke-width="1" fill="none" />
<ellipse cx="258.5" cy="605.2" rx="2.4" ry="1.6" fill="#fff" stroke="#2a2a2a" stroke-width="0.9" transform="rotate(28 258.5 605.2)"/>
<path d="M381.5,678.5 Q381.0,676.0 384.5,674.5 L389.5,671.0 L398.5,676.0 L399.0,679.0 L392.0,683.0 Q389.5,684.0 387.0,682.5 Z" stroke="#2a2a2a" stroke-width="1.3" fill="#bdbdbd" stroke-linejoin="round"/>
<path d="M384.5,674.5 L392.0,679.5 L398.5,676.0 M392.0,679.5 L392.0,683.0" stroke="#2a2a2a" stroke-width="1" fill="none" />
<ellipse cx="388.0" cy="678.7" rx="2.4" ry="1.6" fill="#fff" stroke="#2a2a2a" stroke-width="0.9" transform="rotate(28 388.0 678.7)"/>
</g>
<path d="M547,529 C546.5,540 546,546 544,552 C540,562 536,568 530,574 C524,580 518,584 510,588 C500,593 480,602 466,601 C455,600 449,596 448.5,586" stroke="#6a6a6a" stroke-width="3.6" fill="none" />
<path d="M547,529 C546.5,540 546,546 544,552 C540,562 536,568 530,574 C524,580 518,584 510,588 C500,593 480,602 466,601 C455,600 449,596 448.5,586" stroke="#fff" stroke-width="1.6" fill="none" />
<path d="M549.3,529 C549,545 549,550 548,556 C546,566 543,573 538,580 C533,587 527,592 520,598 C512,604 505,608 498,612 L493,615" stroke="#6a6a6a" stroke-width="3.6" fill="none" />
<path d="M549.3,529 C549,545 549,550 548,556 C546,566 543,573 538,580 C533,587 527,592 520,598 C512,604 505,608 498,612 L493,615" stroke="#fff" stroke-width="1.6" fill="none" />
<path d="M551.3,529 C551,545 551,552 550,560 C549,569 547,577 544,584 C540,593 533,601 526,608 C518,615 510,621 502,626 L493,631" stroke="#6a6a6a" stroke-width="3.6" fill="none" />
<path d="M551.3,529 C551,545 551,552 550,560 C549,569 547,577 544,584 C540,593 533,601 526,608 C518,615 510,621 502,626 L493,631" stroke="#fff" stroke-width="1.6" fill="none" />
<path d="M553.3,529 C553,548 553,558 552,566 C551,575 549,583 546,590 C542,598 536,606 530,612 C522,620 514,626 506,632 L494,642" stroke="#6a6a6a" stroke-width="3.6" fill="none" />
<path d="M553.3,529 C553,548 553,558 552,566 C551,575 549,583 546,590 C542,598 536,606 530,612 C522,620 514,626 506,632 L494,642" stroke="#fff" stroke-width="1.6" fill="none" />
<line x1="493.50" y1="638.00" x2="531.00" y2="659.00" stroke="#555" stroke-width="1.1" stroke-dasharray="7 2 1.5 2"/>
<g id="cover">
<path d="M535,634 Q536,629.5 542.5,626 L555,619.8 L570,635 L570,687.5 L551.25,696 L535,705 Z" stroke="none" stroke-width="1" fill="#fff" />
<path d="M535,705 L538.75,700 L551.25,696 Z" stroke="#444" stroke-width="0.8" fill="#eee" />
<path d="M535,634 Q536,629.5 542.5,626 L555,619.8 L570,635 L570,687.5 L551.25,696 L535,705 Z" stroke="#2e2e2e" stroke-width="1.4" fill="none" stroke-linejoin="round"/>
<path d="M535,634 L535,705" stroke="#222" stroke-width="2.4" fill="none" />
<path d="M535.5,633 Q537,628.5 543,625.5 L555,619.8" stroke="#222" stroke-width="2" fill="none" />
<path d="M539.4,633.3 L551.25,645 L569.6,635.3" stroke="#2e2e2e" stroke-width="1.1" fill="none" />
<path d="M551.25,645 L551.25,696" stroke="#2e2e2e" stroke-width="1.2" fill="none" />
<path d="M538.75,634.5 L538.75,700" stroke="#555" stroke-width="0.9" fill="none" />
<path d="M555,653.8 L568.2,647.5" stroke="#222" stroke-width="2.2" fill="none" />
<path d="M555,659.3 L567.6,653.6" stroke="#222" stroke-width="2.2" fill="none" />
<ellipse cx="555.5" cy="625.5" rx="1.6" ry="2" fill="#bbb" stroke="#333" stroke-width="0.9"/>
</g>
<path d="M323.5,636.5 L305.5,648.5 L305.5,668" stroke="#555" stroke-width="1.1" fill="none" stroke-dasharray="6 2 1.5 2"/>
<g id="elbow">
<path d="M300.5,681 L309.5,681 L309.8,686.5 L296.5,695.8 L290.5,689.2 L300.5,684.5 Z" stroke="#222" stroke-width="1.3" fill="#e4e4e4" stroke-linejoin="round"/>
<path d="M297,692 L302,688.5 M300,694 L305,690.5 M303,686 L306.5,690" stroke="#444" stroke-width="1.1" fill="none" />
<ellipse cx="293.3" cy="692.6" rx="2.4" ry="4" transform="rotate(-38 293.3 692.6)" fill="#f4f4f4" stroke="#222" stroke-width="1.2"/>
<path d="M298.5,671 Q298,668 302,667.3 L309,667.3 Q313,668 312.6,671 L312.6,676 Q311.5,680.5 305.5,680.5 Q299.5,680.5 298.5,676 Z" stroke="#1c1c1c" stroke-width="1.4" fill="#3c3c3c" />
<path d="M301,671 Q305.5,674 310.5,671" stroke="#ccc" stroke-width="1" fill="none" />
<path d="M302,675.5 L303.5,677.5 M307,675.5 L309,677" stroke="#ddd" stroke-width="1" fill="none" />
</g>
<g id="remote">
<path d="M251.3,283.2 L289.3,261.4 L301.2,268.6 L301,271.6 L263.8,293.2 L252,287 Z" stroke="#1e1e1e" stroke-width="1.6" fill="#fff" stroke-linejoin="round"/>
<path d="M251.3,283.2 L263.5,289.8 L301.2,268.6" stroke="#1e1e1e" stroke-width="1.2" fill="none" />
<path d="M263.5,289.8 L263.8,293.2" stroke="#1e1e1e" stroke-width="1.2" fill="none" />
<path d="M254.6,282.6 L277,269.8 L285.2,274.6 L265.8,286.2 L263.4,287.5 Z" stroke="none" stroke-width="1" fill="#262626" />
<path d="M279,269 L288.4,263.6 L297.4,268.2 L287.6,273.8 Z" stroke="#1e1e1e" stroke-width="1.4" fill="#d8d8d8" stroke-linejoin="round"/>
<path d="M295.9,258.8 A13,11 0 0 1 305.6,265.6" stroke="#4a4a4a" stroke-width="1.7" fill="none" stroke-linecap="round"/>
<path d="M294.2,253.2 A21,16.5 0 0 1 314,267.8" stroke="#4a4a4a" stroke-width="1.7" fill="none" stroke-linecap="round"/>
<path d="M291.6,245.9 A32.5,25 0 0 1 323.6,269.5" stroke="#4a4a4a" stroke-width="1.7" fill="none" stroke-linecap="round"/>
</g>
<line x1="241.50" y1="382.00" x2="266.50" y2="400.70" stroke="#3a3a3a" stroke-width="1.3" />
<circle cx="234.5" cy="374.4" r="10.4" fill="#fff" stroke="#5c5c5c" stroke-width="1.6"/>
<text x="234.5" y="379.09999999999997" font-size="13" text-anchor="middle" fill="#4a4a4a" stroke="#4a4a4a" stroke-width="0.3">1</text>
<line x1="243.00" y1="252.50" x2="273.50" y2="268.70" stroke="#3a3a3a" stroke-width="1.3" />
<circle cx="234.4" cy="247.7" r="10.4" fill="#fff" stroke="#5c5c5c" stroke-width="1.6"/>
<text x="234.4" y="252.39999999999998" font-size="13" text-anchor="middle" fill="#4a4a4a" stroke="#4a4a4a" stroke-width="0.3">2</text>
<line x1="242.00" y1="191.00" x2="295.00" y2="148.00" stroke="#3a3a3a" stroke-width="1.3" />
<circle cx="234.2" cy="197.6" r="10.4" fill="#fff" stroke="#5c5c5c" stroke-width="1.6"/>
<text x="234.2" y="202.29999999999998" font-size="13" text-anchor="middle" fill="#4a4a4a" stroke="#4a4a4a" stroke-width="0.3">3</text>
<line x1="566.50" y1="188.00" x2="545.00" y2="221.50" stroke="#3a3a3a" stroke-width="1.3" />
<circle cx="570.6" cy="178.9" r="10.4" fill="#fff" stroke="#5c5c5c" stroke-width="1.6"/>
<text x="570.6" y="183.6" font-size="13" text-anchor="middle" fill="#4a4a4a" stroke="#4a4a4a" stroke-width="0.3">4</text>
<line x1="331.50" y1="688.50" x2="310.50" y2="684.50" stroke="#3a3a3a" stroke-width="1.3" />
<circle cx="341.75" cy="689.6" r="10.4" fill="#fff" stroke="#5c5c5c" stroke-width="1.6"/>
<text x="341.75" y="694.3000000000001" font-size="13" text-anchor="middle" fill="#4a4a4a" stroke="#4a4a4a" stroke-width="0.3">5</text>
</svg>
<div class="t" style="left:197.3px;top:723.2px;">1</div>
<div class="t" style="left:235px;top:723.2px;">Außeneinheit</div>
<div class="t" style="left:197.3px;top:746.6px;">2</div>
<div class="t" style="left:235px;top:746.6px;">Fernbedienung</div>
<div class="t" style="left:410.3px;top:723.2px;">3</div>
<div class="t" style="left:449px;top:723.2px;">Inneneinheit</div>
<div class="t" style="left:410.3px;top:746.6px;">4</div>
<div class="t" style="left:449px;top:746.6px;">Anschlüsse und Ver-</div>
<div class="t" style="left:449px;top:762.6px;">rohrung</div>
</body></html>
